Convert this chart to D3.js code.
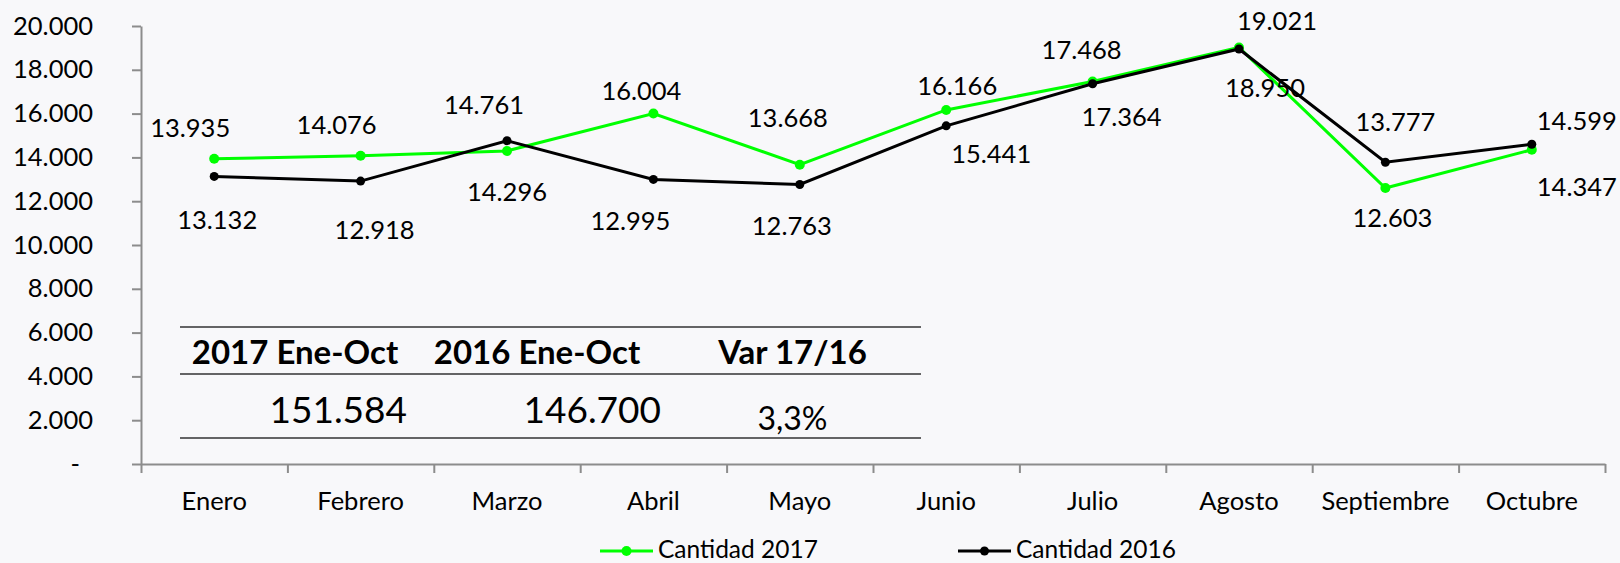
<!DOCTYPE html>
<html lang="es">
<head>
<meta charset="UTF-8">
<title>Cantidad 2017 vs 2016</title>
<script src="https://d3js.org/d3.v7.min.js"></script>
<style>
  body { margin: 0; background: #f8f8fa; }
  text { font-family: Lato, "Noto Sans", sans-serif; fill: #000; }
</style>
</head>
<body>
<svg id="chart" width="1620" height="563"></svg>
<script>
const months = ["Enero", "Febrero", "Marzo", "Abril", "Mayo", "Junio", "Julio", "Agosto", "Septiembre", "Octubre"];
const cantidad2017 = [13935, 14076, 14296, 16004, 13668, 16166, 17468, 19021, 12603, 14347];
const cantidad2016 = [13132, 12918, 14761, 12995, 12763, 15441, 17364, 18950, 13777, 14599];
const yTicks = [0, 2000, 4000, 6000, 8000, 10000, 12000, 14000, 16000, 18000, 20000];
const tableHeaders = ["2017 Ene-Oct", "2016 Ene-Oct", "Var 17/16"];
const seriesNames = ["Cantidad 2017", "Cantidad 2016"];

// label nudges (dx, dy from the point) - labels were hand-placed in the original
const nudge2017 = [[-24,-22],[-24,-22],[0,50],[-12,-14],[-12,-38],[11,-15],[-11,-22],[38,-17],[7,39],[45,46]];
const nudge2016 = [[3,53],[14,58],[-23,-27],[-23,51],[-8,51],[45,37],[29,42],[26,48],[10,-31],[45,-14]];

const width = 1620, height = 563;
const svg = d3.select("#chart");
svg.append("rect").attr("width", width).attr("height", height).attr("fill", "#f8f8fa");

const loc = d3.formatLocale({ decimal: ",", thousands: ".", grouping: [3], currency: ["", ""] });
const fmt = loc.format(",.0f");
const pct = loc.format(".1%");

const plotLeft = 141, plotRight = 1605, plotTop = 26, plotBottom = 464;
const x = d3.scaleBand().domain(months).range([plotLeft, plotRight]);
const xEdge = d3.scaleLinear().domain([0, months.length]).range([plotLeft, plotRight]);
const y = d3.scaleLinear().domain([0, 20000]).range([plotBottom, plotTop]);
const cx = i => x(months[i]) + x.bandwidth() / 2;

const axisColor = "#8c8c8c";

// y axis
const gy = svg.append("g").attr("transform", `translate(${plotLeft},0)`)
  .call(d3.axisLeft(y).tickValues(yTicks).tickSize(9).tickSizeOuter(0).tickPadding(39)
    .tickFormat(d => d === 0 ? "-" : fmt(d)));
gy.selectAll("path, line").attr("stroke", axisColor).attr("stroke-width", 2);
gy.selectAll("text").attr("font-size", 25.5).attr("font-family", null)
  .attr("dx", d => d === 0 ? -13 : 0);

// x axis ticks between categories
const gx = svg.append("g").attr("transform", `translate(0,${plotBottom})`)
  .call(d3.axisBottom(xEdge).tickValues(d3.range(months.length + 1)).tickSize(9).tickSizeOuter(0).tickFormat(""));
gx.selectAll("path, line").attr("stroke", axisColor).attr("stroke-width", 2);

const gxl = svg.append("g").attr("transform", `translate(0,${plotBottom})`)
  .call(d3.axisBottom(x).tickSize(0));
gxl.select(".domain").remove();
gxl.selectAll("text").attr("font-size", 25.5).attr("font-family", null).attr("y", 46).attr("dy", 0);

// series
const line = d3.line().x((d, i) => cx(i)).y(d => y(d));
const series = [
  { values: cantidad2017, color: "#00ff00", r: 5, nudge: nudge2017 },
  { values: cantidad2016, color: "#000000", r: 4.5, nudge: nudge2016 }
];

series.forEach(s => {
  svg.append("path").datum(s.values).attr("d", line)
    .attr("fill", "none").attr("stroke", s.color).attr("stroke-width", 3);
  svg.append("g").selectAll("circle").data(s.values).join("circle")
    .attr("cx", (d, i) => cx(i)).attr("cy", d => y(d)).attr("r", s.r).attr("fill", s.color);
});
series.forEach(s => {
  svg.append("g").selectAll("text").data(s.values).join("text")
    .attr("x", (d, i) => cx(i) + s.nudge[i][0])
    .attr("y", (d, i) => y(d) + s.nudge[i][1])
    .attr("text-anchor", "middle").attr("font-size", 25.5)
    .text(d => fmt(d));
});

// summary table
const total2017 = d3.sum(cantidad2017), total2016 = d3.sum(cantidad2016);
const cols = [180, 410, 664, 921];
const rows = [327, 374, 438];
svg.append("g").selectAll("line").data(rows).join("line")
  .attr("x1", cols[0]).attr("x2", cols[3]).attr("y1", d => d).attr("y2", d => d)
  .attr("stroke", "#333").attr("stroke-width", 1.5);
svg.append("g").selectAll("text").data(tableHeaders).join("text")
  .attr("x", (d, i) => (cols[i] + cols[i + 1]) / 2).attr("y", 364)
  .attr("text-anchor", "middle").attr("font-size", 33).attr("font-weight", "bold")
  .text(d => d);
svg.append("g").selectAll("text").data([total2017, total2016]).join("text")
  .attr("x", (d, i) => cols[i + 1] - 3).attr("y", 423)
  .attr("text-anchor", "end").attr("font-size", 37)
  .text(d => fmt(d));
svg.append("text").attr("x", (cols[2] + cols[3]) / 2).attr("y", 430)
  .attr("text-anchor", "middle").attr("font-size", 32)
  .text(pct(total2017 / total2016 - 1));

// legend
const legX = [600, 958];
series.forEach((s, i) => {
  const g = svg.append("g").attr("transform", `translate(${legX[i]},551)`);
  g.append("line").attr("x1", 0).attr("x2", 53).attr("stroke", s.color).attr("stroke-width", 3);
  g.append("circle").attr("cx", 26.5).attr("r", s.r).attr("fill", s.color);
  g.append("text").attr("x", 58).attr("y", 7).attr("font-size", 24.5).text(seriesNames[i]);
});
</script>
</body>
</html>
